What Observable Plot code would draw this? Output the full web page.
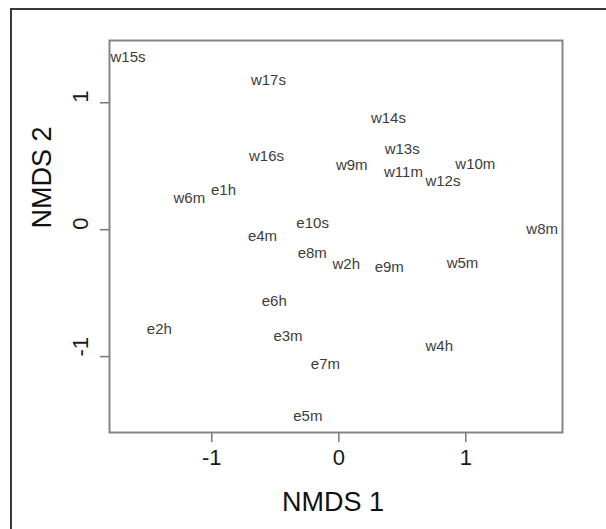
<!DOCTYPE html>
<html>
<head>
<meta charset="utf-8">
<script src="https://cdn.jsdelivr.net/npm/d3@7"></script>
<script src="https://cdn.jsdelivr.net/npm/@observablehq/plot@0.6"></script>
<style>
  html, body { margin: 0; padding: 0; background: #fff; }
  #wrap { position: relative; width: 606px; height: 529px; overflow: hidden; }
  #outer { position: absolute; left: 10px; top: 8px; width: 700px; height: 700px;
           border-left: 2px solid #3a3a3a; border-top: 2px solid #3a3a3a; }
  #chart { position: absolute; left: 0; top: 0; }
</style>
</head>
<body>
<div id="wrap"><div id="outer"></div><div id="chart"></div></div>
<script>
const labels = ["w15s","w17s","w14s","w13s","w16s","w9m","w11m","w10m","w12s","e1h","w6m",
                "e10s","w8m","e4m","e8m","w2h","e9m","w5m","e6h","e2h","e3m","w4h","e7m","e5m"];
const nmds1 = [-1.66,-0.554,0.391,0.499,-0.569,0.102,0.509,1.075,0.820,-0.908,-1.177,
               -0.206,1.601,-0.601,-0.209,0.059,0.397,0.974,-0.508,-1.413,-0.400,0.791,-0.105,-0.244];
const nmds2 = [1.357,1.178,0.880,0.632,0.581,0.506,0.454,0.514,0.380,0.309,0.250,
               0.054,0.002,-0.051,-0.183,-0.273,-0.294,-0.261,-0.563,-0.787,-0.839,-0.920,-1.062,-1.469];
const xTicks = [-1, 0, 1];
const yTicks = [-1, 0, 1];
const tickLabels = ["-1", "0", "1"];
const xTitle = "NMDS 1";
const yTitle = "NMDS 2";

const font = "'Liberation Sans', Arial, Helvetica, sans-serif";

const chart = Plot.plot({
  width: 606,
  height: 529,
  marginLeft: 109,
  marginRight: 44,
  marginTop: 40,
  marginBottom: 97,
  style: { fontFamily: font, background: "transparent", overflow: "visible" },
  x: { domain: [-1.8055, 1.7614] },
  y: { domain: [-1.598, 1.4906] },
  marks: [
    Plot.frame({ stroke: "#858585", strokeWidth: 2 }),
    Plot.axisX({ ticks: xTicks, tickSize: 10, tickFormat: () => "", label: null, stroke: "#777", strokeWidth: 1.5 }),
    Plot.axisY({ ticks: yTicks, tickSize: 9, tickFormat: () => "", label: null, stroke: "#777", strokeWidth: 1.5 }),
    Plot.text(xTicks, { x: d => d, text: (d, i) => tickLabels[i], frameAnchor: "bottom", dy: 32,
                        fontSize: 22, fill: "#1a1a1a" }),
    Plot.text(yTicks, { y: d => d, text: (d, i) => tickLabels[i], frameAnchor: "left", dx: -29,
                        rotate: -90, fontSize: 22, fill: "#1a1a1a" }),
    Plot.text([xTitle], { text: d => d, frameAnchor: "bottom", dx: -3, dy: 78, fontSize: 27, fill: "#111" }),
    Plot.text([yTitle], { text: d => d, frameAnchor: "left", dx: -67, dy: -8, rotate: -90, fontSize: 27, fill: "#111" }),
    Plot.text(labels, { x: nmds1, y: nmds2, text: labels, fontSize: 15, fill: "#3c3c3c" })
  ]
});
document.getElementById("chart").appendChild(chart);
</script>
</body>
</html>
